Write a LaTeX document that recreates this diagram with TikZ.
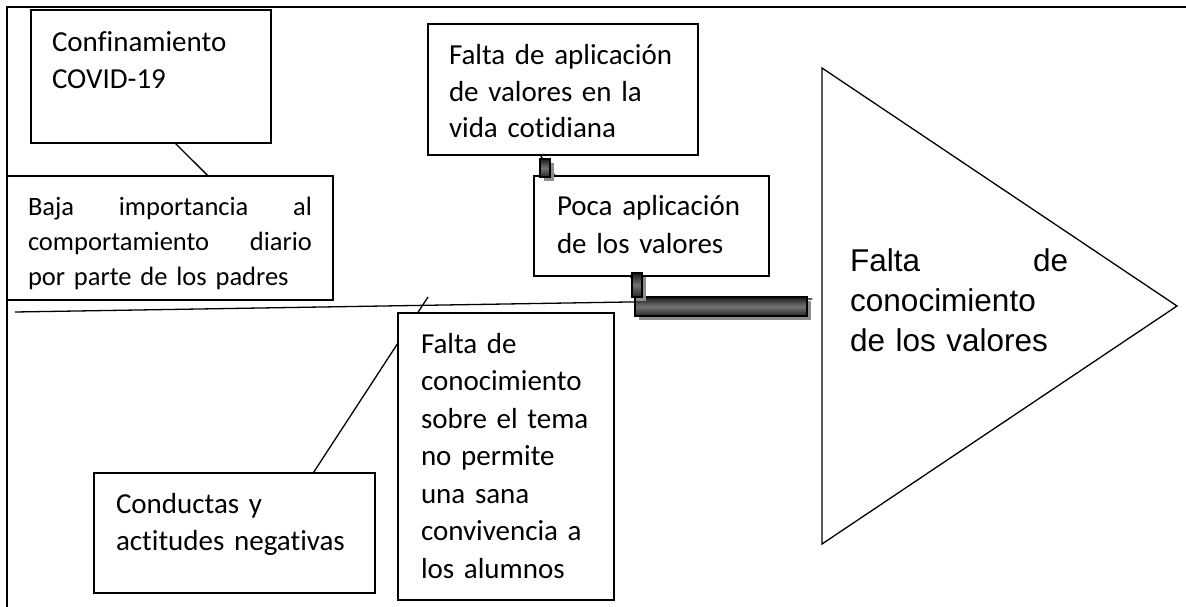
\documentclass[tikz,border=0pt]{standalone}
\usepackage{fontspec}
\setmainfont{Carlito}[Ligatures={NoCommon,NoContextual}]
\newfontfamily\arialf{Liberation Sans}
\usetikzlibrary{calc,shadows}
\begin{document}
\begin{tikzpicture}[x=1pt,y=-1pt,
	causa/.style={draw,line width=1.6pt,fill=white,anchor=north west,inner ysep=0pt,outer sep=0pt,align=left,font=\fontsize{29}{37}\selectfont},
	barra/.style={draw,line width=1.2pt,inner sep=0pt,outer sep=0pt,anchor=north west,top color=black!90,bottom color=black!85,middle color=black!55,drop shadow={shadow xshift=4pt,shadow yshift=-4pt,fill=black!45,opacity=1}},
	linea/.style={line width=1.3pt}]
	\useasboundingbox (0,0) rectangle (1186,607);
	\draw[line width=1.6pt] (7,607) -- (7,7) -- (1186,7);
	% espina
	\coordinate (cola) at (15,312);
	\coordinate (punta) at (812,299);
	\coordinate (r2) at (428,297);
	\draw[linea] (cola) -- (punta);
	% causas
	\node[causa,inner xsep=21pt,text width=198pt,text height=42pt,text depth=91pt] (conf) at (31,10) {Confinamiento\\COVID-19};
	\node[causa,inner xsep=21pt,text width=284pt,text height=39pt,text depth=85pt,font=\fontsize{26.5}{35}\selectfont] (baja) at (7,176) {Baja \hfill importancia \hfill al\\comportamiento \hfill diario\\por parte de los padres};
	\draw[linea] ($(conf.south west)!0.6!(conf.south east)$) -- ($(baja.north west)!0.617!(baja.north east)$);
	\node[causa,inner xsep=21pt,text width=228pt,text height=41pt,text depth=90pt,font=\fontsize{29}{36.5}\selectfont] (aplic) at (428,24) {Falta de aplicación\\de valores en la\\vida cotidiana};
	\node[causa,inner xsep=23pt,text width=189pt,text height=39pt,text depth=61pt,font=\fontsize{29}{38}\selectfont] (poca) at (534,176) {Poca aplicación\\de los valores};
	\node[causa,inner xsep=22pt,text width=237pt,text height=40pt,text depth=80pt] (conduc) at (94,473) {Conductas y\\actitudes negativas};
	\draw[linea] ($(conduc.north west)!0.78!(conduc.north east)$) -- (r2);
	\node[causa,inner xsep=23pt,text width=170pt,text height=40pt,text depth=247pt,font=\fontsize{29}{37.5}\selectfont] (conoc) at (398,313) {Falta de\\conocimiento\\sobre el tema\\no permite\\una sana\\convivencia a\\los alumnos};
	% uniones gruesas
	\draw[linea] ($(aplic.south west)!0.415!(aplic.south east)$) -- ($(poca.north west)!0.09!(poca.north east)$);
	\node[barra,minimum width=10pt,minimum height=18pt] (b1) at (540,159) {};
	\node[barra,minimum width=172pt,minimum height=19pt] (barra) at (635,297) {};
	\draw[linea] ($(poca.south west)!0.409!(poca.south east)$) -- ([xshift=10pt]barra.north west);
	\node[barra,minimum width=10pt,minimum height=24pt] (b2) at (632,273) {};
	% efecto
	\draw[linea] (822,68) -- (1177,306) -- (822,544) -- cycle;
	\node[font=\arialf\fontsize{31.5}{40}\selectfont,text width=218pt,align=left,anchor=base west,inner sep=0pt] (efecto) at (850,271) {Falta \hfill de\\conocimiento\\de los valores};
\end{tikzpicture}
\end{document}
